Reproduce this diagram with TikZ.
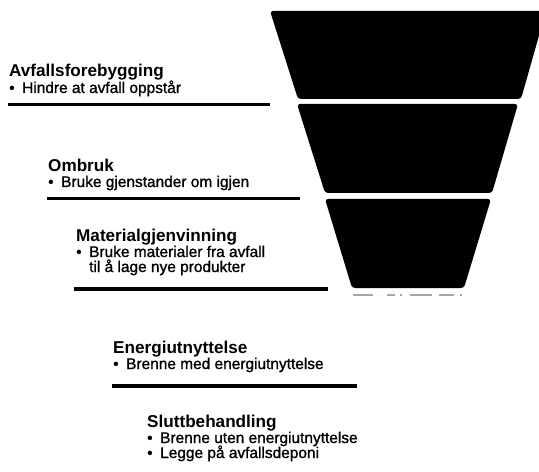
\documentclass[tikz,border=0pt]{standalone}
\usepackage{fontspec}
\setmainfont{Liberation Sans}
\newfontfamily\itemfont[FakeBold=1.2]{Liberation Sans}
\usetikzlibrary{positioning}

\tikzset{
  heading/.style={font=\fontsize{17.2}{18}\selectfont\bfseries, inner sep=0pt, anchor=base west},
  item/.style={font=\itemfont\fontsize{15.5}{16}\selectfont, inner sep=0pt, anchor=base west},
  rule/.style={line width=3.2bp},
  level/.style={fill=black, rounded corners=3bp},
}
\newcommand{\bul}{\makebox[13bp][l]{\textbullet}}

\begin{document}
\begin{tikzpicture}[x=1bp,y=-1bp]
	\useasboundingbox (0,0) rectangle (539,472);
	% funnel
	\begin{scope}
		\clip (0,0) rectangle (539,472);
		\fill[level] (270,11) -- (546,11) -- (521,99) -- (298,99) -- cycle;
		\fill[level] (297,104) -- (518,104) -- (492,193) -- (325,193) -- cycle;
		\fill[level] (325,199) -- (491,199) -- (464,288) -- (352,288) -- cycle;
	\end{scope}
	\draw[gray!70, line width=1.5bp, dash pattern=on 20bp off 14bp on 8bp off 5bp on 2bp off 8bp on 22bp off 7bp on 15bp off 6bp on 4bp] (353,295) -- (462,295);

	% labels
	\node[heading] (avfall) at (9,77) {Avfallsforebygging};
	\node[item] (avfallA) at ([yshift=-16bp]avfall.base west) {\bul Hindre at avfall oppstår};
	\draw[rule] (8,104.5) -- (270,104.5);

	\node[heading] (ombruk) at (48,172) {Ombruk};
	\node[item] (ombrukA) at ([yshift=-15bp]ombruk.base west) {\bul Bruke gjenstander om igjen};
	\draw[rule] (47,198.5) -- (300,198.5);

	\node[heading] (material) at (76,242) {Materialgjenvinning};
	\node[item] (materialA) at ([yshift=-15bp]material.base west) {\bul Bruke materialer fra avfall};
	\node[item] (materialB) at ([xshift=13bp,yshift=-15bp]materialA.base west) {til å lage nye produkter};
	\draw[rule] (74,289) -- (328,289);

	\node[heading] (energi) at (113,353) {Energiutnyttelse};
	\node[item] (energiA) at ([yshift=-16bp]energi.base west) {\bul Brenne med energiutnyttelse};
	\draw[rule] (112,386) -- (357,386);

	\node[heading] (slutt) at (147,427) {Sluttbehandling};
	\node[item] (sluttA) at ([yshift=-16bp]slutt.base west) {\bul Brenne uten energiutnyttelse};
	\node[item] (sluttB) at ([yshift=-15bp]sluttA.base west) {\bul Legge på avfallsdeponi};
\end{tikzpicture}
\end{document}
